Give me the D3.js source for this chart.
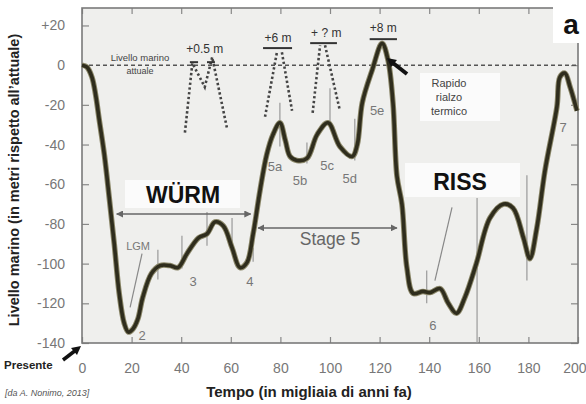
<!DOCTYPE html>
<html>
<head>
<meta charset="utf-8">
<script src="https://cdn.jsdelivr.net/npm/d3@7"></script>
<style>
  body { margin: 0; background: #fff; }
  svg { display: block; font-family: "Liberation Sans", Arial, sans-serif; }
</style>
</head>
<body>
<svg width="586" height="404"></svg>
<script>
// sea level curve: [thousands of years ago, metres vs today]
const seaLevel = [
  [0, 0], [2, -1], [4, -6], [5.5, -15], [7, -28], [9, -45], [11, -67], [13, -90],
  [15, -115], [17, -130], [18.7, -134.5], [20.5, -133], [22.5, -128], [24.5, -117],
  [28, -105], [31.5, -101], [35.5, -101], [38.7, -102], [42.3, -95], [47, -87],
  [50.4, -85], [53.6, -79], [57, -81], [60.5, -92], [63.7, -102], [66.5, -99.5],
  [69, -85], [71.8, -63], [74.5, -45], [77, -35], [79.8, -29], [82, -38],
  [83.9, -46], [86.7, -48], [90.7, -47], [94.8, -35], [99.2, -29], [104, -41],
  [109, -46], [111, -40], [113, -19], [117, -2.5], [121, 11], [123.4, 2.5],
  [125.4, -19], [127, -56], [129, -70], [131, -102], [133.5, -115], [137.5, -114],
  [140.3, -114.6], [144.4, -112.6], [147.7, -120], [151, -125], [154.4, -117],
  [159, -100], [164.5, -77], [170, -70], [173.8, -72], [178, -87], [180.6, -97.5],
  [183.4, -82], [186.7, -53], [191.5, -21], [192.7, -6], [194.7, -4], [196.8, -11],
  [199.6, -23]
];

// dotted highstand sketches
const dotted = [
  [[41.5, -34], [44.5, 1], [49.5, -11], [52.5, 4], [58.5, -32]],
  [[73.8, -26], [78.6, 6.5]],
  [[80.6, 6.5], [84.7, -23]],
  [[93, -24], [96, 10]],
  [[98, 10], [104, -23]]
];

// highstand level bars: [from, to, level]
const levelBars = [[43.5, 46.8, 1.5], [50.4, 53.6, 1.5], [73, 84.7, 8.6], [92, 102.8, 11.1], [116, 127, 13.1]];
const levelLabels = [['+0.5 m', 49.5, 6], ['+6 m', 79, 11.5], ['+ ? m', 98.5, 14], ['+8 m', 121.5, 16.5]];

// thin stage markers: [time, top, bottom]
const markers = [
  [30.6, -93, -108], [40.3, -86, -102.5], [50.4, -74, -91], [60.5, -77, -92], [69, -92, -99],
  [79.8, -19, -41], [90.7, -39, -49.5], [100, -11.6, -29], [110, -27, -48],
  [139, -103.5, -120], [159.3, -67, -140], [179.4, -55.5, -108.5]
];
const pointers = [[[24.2, -95], [19.4, -122]], [[149.2, -71.7], [142.3, -108.6]]];
const stageLabels = [
  ['LGM', 22.6, -91], ['2', 24.2, -136], ['3', 44.8, -109], ['4', 67.7, -109],
  ['5a', 77.8, -51], ['5b', 87.9, -58], ['5c', 98.8, -50.5], ['5d', 108, -57],
  ['5e', 119, -23], ['6', 141.5, -131], ['7', 194, -31.5]
];

const xTicks = [0, 20, 40, 60, 80, 100, 120, 140, 160, 180, 200];
const yTicks = [20, 0, -20, -40, -60, -80, -100, -120, -140];

const svg = d3.select('svg');
const x = d3.scaleLinear().domain([0, 200]).range([82, 578]);
const y = d3.scaleLinear().domain([-140, 28.8]).range([343, 8]);

svg.append('defs').append('marker')
  .attr('id', 'head').attr('viewBox', '0 0 10 10').attr('refX', 9).attr('refY', 5)
  .attr('markerWidth', 7).attr('markerHeight', 7).attr('orient', 'auto-start-reverse')
  .attr('markerUnits', 'userSpaceOnUse')
  .append('path').attr('d', 'M0,0 L10,5 L0,10 Z').attr('fill', '#666');

// plot background
svg.append('rect')
  .attr('x', x(0)).attr('y', y(28.8))
  .attr('width', x(200) - x(0)).attr('height', y(-140) - y(28.8))
  .attr('fill', '#efefed');

// white label boxes
const whiteBox = (x0, y0, x1, y1) => svg.append('rect')
  .attr('x', x0).attr('y', y0).attr('width', x1 - x0).attr('height', y1 - y0).attr('fill', '#fbfbfb');
whiteBox(125, 180, 240, 208);
whiteBox(405, 163, 520, 197);
whiteBox(420, 73, 500, 121);

// axes
const fmt = d => d > 0 ? '+' + d : String(d);
const axisStyle = g => {
  g.select('.domain').remove();
  g.selectAll('line').attr('stroke', '#888').attr('stroke-width', 1.2);
  g.selectAll('text').attr('fill', '#777').attr('font-size', 14);
};
svg.append('g').attr('transform', `translate(${x(0)},0)`)
  .call(d3.axisLeft(y).tickValues(yTicks).tickFormat(fmt).tickSizeInner(-7).tickSizeOuter(0).tickPadding(17))
  .call(axisStyle);
svg.append('g').attr('transform', `translate(${x(200)},0)`)
  .call(d3.axisRight(y).tickValues(yTicks).tickFormat('').tickSizeInner(-7).tickSizeOuter(0))
  .call(axisStyle);
svg.append('g').attr('transform', `translate(0,${y(-140)})`)
  .call(d3.axisBottom(x).tickValues(xTicks).tickSizeInner(-6).tickSizeOuter(0).tickPadding(20))
  .call(axisStyle)
  .call(g => g.selectAll('text').filter(d => d === 200).attr('text-anchor', 'end').attr('x', 8));
svg.append('g').attr('transform', `translate(0,${y(28.8)})`)
  .call(d3.axisTop(x).tickValues(xTicks).tickFormat('').tickSizeInner(-6).tickSizeOuter(0))
  .call(axisStyle);

svg.append('rect')
  .attr('x', x(0)).attr('y', y(28.8))
  .attr('width', x(200) - x(0)).attr('height', y(-140) - y(28.8))
  .attr('fill', 'none').attr('stroke', '#7a7a7a').attr('stroke-width', 1.6);

// corner cut for the panel letter
svg.append('rect').attr('x', 553).attr('y', 0).attr('width', 33).attr('height', 43).attr('fill', '#fff');
svg.append('text').attr('x', 571).attr('y', 34).attr('text-anchor', 'middle')
  .attr('font-size', 28).attr('font-weight', 'bold').attr('fill', '#111').text('a');

// present sea level
svg.append('line')
  .attr('x1', x(0)).attr('x2', x(200)).attr('y1', y(0)).attr('y2', y(0))
  .attr('stroke', '#555').attr('stroke-width', 1.5).attr('stroke-dasharray', '4,3');
svg.append('text').attr('x', 140).attr('y', 61).attr('text-anchor', 'middle')
  .attr('font-size', 9.5).attr('fill', '#444').text('Livello marino');
svg.append('text').attr('x', 140).attr('y', 74).attr('text-anchor', 'middle')
  .attr('font-size', 9).attr('fill', '#444').text('attuale');

// markers and pointers
svg.append('g').selectAll('line').data(markers).enter().append('line')
  .attr('x1', d => x(d[0])).attr('x2', d => x(d[0]))
  .attr('y1', d => y(d[1])).attr('y2', d => y(d[2]))
  .attr('stroke', '#999').attr('stroke-width', 1.2);
svg.append('g').selectAll('line').data(pointers).enter().append('line')
  .attr('x1', d => x(d[0][0])).attr('y1', d => y(d[0][1]))
  .attr('x2', d => x(d[1][0])).attr('y2', d => y(d[1][1]))
  .attr('stroke', '#888').attr('stroke-width', 1.2);

// dotted sketches
const lin = d3.line().x(d => x(d[0])).y(d => y(d[1]));
svg.append('g').selectAll('path').data(dotted).enter().append('path')
  .attr('d', lin).attr('fill', 'none').attr('stroke', '#444')
  .attr('stroke-width', 2.6).attr('stroke-dasharray', '2.4,2.4');

svg.append('g').selectAll('line').data(levelBars).enter().append('line')
  .attr('x1', d => x(d[0])).attr('x2', d => x(d[1]))
  .attr('y1', d => y(d[2])).attr('y2', d => y(d[2]))
  .attr('stroke', '#333').attr('stroke-width', 2);
svg.append('g').selectAll('text').data(levelLabels).enter().append('text')
  .attr('x', d => x(d[1])).attr('y', d => y(d[2]))
  .attr('text-anchor', 'middle').attr('font-size', 12).attr('fill', '#333')
  .text(d => d[0]);

// main curve
const curve = d3.line().x(d => x(d[0])).y(d => y(d[1])).curve(d3.curveCatmullRom.alpha(0.5));
svg.append('path').datum(seaLevel).attr('d', curve)
  .attr('fill', 'none').attr('stroke', '#8a8668').attr('stroke-width', 5.5)
  .attr('stroke-linejoin', 'round');
svg.append('path').datum(seaLevel).attr('d', curve)
  .attr('fill', 'none').attr('stroke', '#2f2d1d').attr('stroke-width', 3.6)
  .attr('stroke-linejoin', 'round');

svg.append('g').selectAll('text').data(stageLabels).enter().append('text')
  .attr('x', d => x(d[1])).attr('y', d => y(d[2]))
  .attr('text-anchor', 'middle').attr('dominant-baseline', 'central')
  .attr('font-size', d => d[0] === 'LGM' ? 11 : 13).attr('fill', '#777')
  .text(d => d[0]);

// period arrows
const arrow = (x0, x1, yy) => svg.append('line')
  .attr('x1', x0).attr('x2', x1).attr('y1', yy).attr('y2', yy)
  .attr('stroke', '#666').attr('stroke-width', 1.5)
  .attr('marker-start', 'url(#head)').attr('marker-end', 'url(#head)');
arrow(x(14), x(68), y(-75));
arrow(x(71), x(127), y(-82));

svg.append('text').attr('x', 183).attr('y', 203).attr('text-anchor', 'middle')
  .attr('font-size', 23).attr('font-weight', 'bold').attr('fill', '#111').text('WÜRM');
svg.append('text').attr('x', 460).attr('y', 190).attr('text-anchor', 'middle')
  .attr('font-size', 23).attr('font-weight', 'bold').attr('fill', '#111').text('RISS');
svg.append('text').attr('x', 330).attr('y', 245).attr('text-anchor', 'middle')
  .attr('font-size', 17.5).attr('fill', '#666').text('Stage 5');

// rapid warming note
[['Rapido', 87], ['rialzo', 101], ['termico', 115]].forEach(([t, yy]) => {
  svg.append('text').attr('x', 449).attr('y', yy).attr('text-anchor', 'middle')
    .attr('font-size', 11).attr('fill', '#444').text(t);
});
svg.append('line').attr('x1', 407).attr('y1', 74).attr('x2', 393).attr('y2', 63)
  .attr('stroke', '#111').attr('stroke-width', 4);
svg.append('path').attr('d', 'M387,58 L397,60 L391,67 Z').attr('fill', '#111');

// presente
svg.append('text').attr('x', 4).attr('y', 369).attr('font-size', 11.5)
  .attr('font-weight', 'bold').attr('fill', '#222').text('Presente');
svg.append('line').attr('x1', 63).attr('y1', 360).attr('x2', 76).attr('y2', 350)
  .attr('stroke', '#111').attr('stroke-width', 3.5);
svg.append('path').attr('d', 'M81,346 L71,348 L77,355 Z').attr('fill', '#111');

// axis titles and source
svg.append('text').attr('x', 309).attr('y', 397).attr('text-anchor', 'middle')
  .attr('font-size', 15).attr('font-weight', 'bold').attr('fill', '#222')
  .text('Tempo (in migliaia di anni fa)');
svg.append('text').attr('transform', 'translate(19,180) rotate(-90)').attr('text-anchor', 'middle')
  .attr('font-size', 14.5).attr('font-weight', 'bold').attr('fill', '#222')
  .text('Livello marino (in metri rispetto all\u2019attuale)');
svg.append('text').attr('x', 5).attr('y', 396).attr('font-size', 9).attr('font-style', 'italic')
  .attr('fill', '#555').text('[da A. Nonimo, 2013]');
</script>
</body>
</html>
